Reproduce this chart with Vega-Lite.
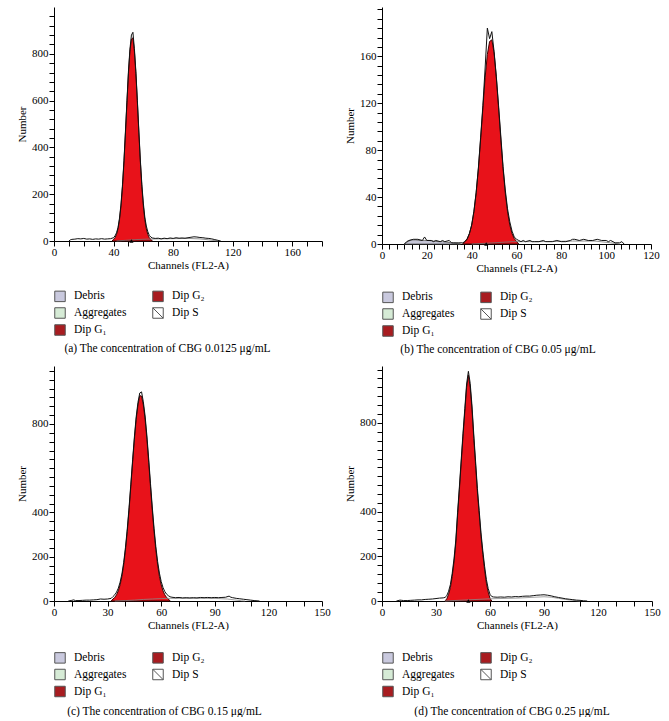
{
"$schema": "https://vega.github.io/schema/vega-lite/v6.json",
"padding": {"left": 16, "top": 3, "right": 0, "bottom": 0},
"config": {
  "view": {"stroke": null},
  "font": "Liberation Serif",
  "axis": {"labelFont": "Liberation Serif", "labelFontSize": 11, "titleFont": "Liberation Serif", "titleFontSize": 11, "titleFontWeight": "normal", "domainColor": "black", "tickColor": "black", "labelColor": "black", "titleColor": "black", "grid": false, "labelFlush": false, "labelOverlap": false, "ticks": true, "tickWidth": 1, "tickSize": 5, "domain": true, "zindex": 2},
  "axisX": {"labelPadding": 0, "titlePadding": 2},
  "axisY": {"labelPadding": 1, "titlePadding": 4},
  "legend": {"orient": "none", "columns": 2, "title": null, "labelFont": "Liberation Serif", "labelFontSize": 11.5, "labelColor": "#000", "symbolSize": 110, "symbolStrokeColor": "#555", "symbolStrokeWidth": 1, "symbolOpacity": 1, "rowPadding": 1, "columnPadding": 23, "labelOffset": 8},
  "title": {"font": "Liberation Serif", "fontSize": 11.5, "fontWeight": "normal", "color": "#000"}
},
"datasets": {
  "legend": [{"cat": "Debris"}, {"cat": "Aggregates"}, {"cat": "Dip G₁"}, {"cat": "Dip G₂"}, {"cat": "Dip S"}],
  "a_g1": [{"x":39,"y":0},{"x":40,"y":7},{"x":41,"y":14},{"x":42,"y":28},{"x":43,"y":52},{"x":44,"y":91},{"x":45,"y":150},{"x":46,"y":232},{"x":47,"y":338},{"x":48,"y":462},{"x":49,"y":593},{"x":50,"y":716},{"x":51,"y":811},{"x":52,"y":863},{"x":53,"y":868},{"x":54,"y":811},{"x":55,"y":716},{"x":56,"y":593},{"x":57,"y":462},{"x":58,"y":338},{"x":59,"y":232},{"x":60,"y":150},{"x":61,"y":91},{"x":62,"y":52},{"x":63,"y":28},{"x":64,"y":14},{"x":65,"y":7},{"x":66,"y":0}],
  "a_tot": [{"x":10,"y":0},{"x":11,"y":5},{"x":12,"y":7},{"x":14,"y":8},{"x":16,"y":10},{"x":18,"y":9},{"x":20,"y":11},{"x":22,"y":8},{"x":24,"y":9},{"x":26,"y":7},{"x":28,"y":9},{"x":30,"y":8},{"x":32,"y":10},{"x":34,"y":8},{"x":36,"y":9},{"x":38,"y":10},{"x":40,"y":14},{"x":41,"y":22},{"x":42,"y":35},{"x":43,"y":58},{"x":44,"y":98},{"x":45,"y":158},{"x":46,"y":240},{"x":47,"y":345},{"x":48,"y":470},{"x":49,"y":600},{"x":50,"y":725},{"x":51,"y":820},{"x":52,"y":880},{"x":53,"y":892},{"x":54,"y":822},{"x":55,"y":724},{"x":56,"y":600},{"x":57,"y":470},{"x":58,"y":346},{"x":59,"y":242},{"x":60,"y":162},{"x":61,"y":102},{"x":62,"y":64},{"x":63,"y":40},{"x":64,"y":24},{"x":65,"y":17},{"x":66,"y":13},{"x":68,"y":11},{"x":70,"y":12},{"x":72,"y":9},{"x":74,"y":12},{"x":76,"y":10},{"x":78,"y":13},{"x":80,"y":11},{"x":82,"y":14},{"x":84,"y":12},{"x":86,"y":13},{"x":88,"y":12},{"x":90,"y":14},{"x":92,"y":16},{"x":94,"y":18},{"x":96,"y":17},{"x":98,"y":15},{"x":100,"y":14},{"x":102,"y":12},{"x":104,"y":11},{"x":106,"y":9},{"x":108,"y":6},{"x":110,"y":3},{"x":112,"y":0}],
  "a_s": [{"x":42,"y":0},{"x":48,"y":3},{"x":55,"y":6},{"x":62,"y":8},{"x":70,"y":9},{"x":80,"y":10},{"x":90,"y":11},{"x":98,"y":9},{"x":104,"y":5},{"x":110,"y":0}],
  "a_mark": [{"x":52,"y":0}],
  "b_g1": [{"x":36,"y":0},{"x":37,"y":2.2},{"x":38,"y":4.6},{"x":39,"y":8.9},{"x":40,"y":16.2},{"x":41,"y":27.4},{"x":42,"y":43.4},{"x":43,"y":64.3},{"x":44,"y":89.4},{"x":45,"y":116},{"x":46,"y":141.7},{"x":47,"y":161.6},{"x":48,"y":172.6},{"x":49,"y":174},{"x":50,"y":163},{"x":51,"y":141.7},{"x":52,"y":116},{"x":53,"y":89.4},{"x":54,"y":64.3},{"x":55,"y":43.4},{"x":56,"y":27.4},{"x":57,"y":16.2},{"x":58,"y":8.9},{"x":59,"y":4.6},{"x":60,"y":2.2},{"x":61,"y":0}],
  "b_tot": [{"x":10,"y":0},{"x":11,"y":2},{"x":12,"y":3},{"x":14,"y":4},{"x":16,"y":4},{"x":18,"y":3},{"x":19,"y":6},{"x":20,"y":3},{"x":22,"y":3},{"x":23,"y":2},{"x":24,"y":3},{"x":26,"y":2},{"x":27,"y":3},{"x":28,"y":2},{"x":30,"y":3},{"x":31,"y":1},{"x":32,"y":1},{"x":34,"y":1},{"x":36,"y":1},{"x":37,"y":2},{"x":38,"y":4},{"x":39,"y":9},{"x":40,"y":16},{"x":41,"y":28},{"x":42,"y":44},{"x":43,"y":65},{"x":44,"y":91},{"x":45,"y":118},{"x":46,"y":150},{"x":47,"y":184},{"x":48,"y":175},{"x":49,"y":181},{"x":50,"y":164},{"x":51,"y":143},{"x":52,"y":118},{"x":53,"y":92},{"x":54,"y":66},{"x":55,"y":46},{"x":56,"y":30},{"x":57,"y":19},{"x":58,"y":11},{"x":59,"y":6},{"x":60,"y":4},{"x":61,"y":3},{"x":62,"y":2},{"x":63,"y":3},{"x":64,"y":2},{"x":66,"y":3},{"x":67,"y":2},{"x":68,"y":2},{"x":70,"y":2},{"x":72,"y":3},{"x":73,"y":2},{"x":74,"y":2},{"x":76,"y":2},{"x":78,"y":3},{"x":80,"y":2},{"x":82,"y":2},{"x":84,"y":3},{"x":85,"y":4},{"x":86,"y":4},{"x":88,"y":3},{"x":90,"y":4},{"x":92,"y":3},{"x":94,"y":3},{"x":96,"y":4},{"x":98,"y":3},{"x":100,"y":3},{"x":101,"y":2},{"x":102,"y":3},{"x":104,"y":1},{"x":106,"y":1},{"x":107,"y":2},{"x":108,"y":0}],
  "b_deb": [{"x":10,"y":0},{"x":11,"y":1.5},{"x":12,"y":2.5},{"x":13,"y":3.5},{"x":15,"y":3.5},{"x":17,"y":3},{"x":19,"y":3},{"x":21,"y":3},{"x":23,"y":2.5},{"x":25,"y":2},{"x":27,"y":2},{"x":29,"y":1.5},{"x":31,"y":1},{"x":33,"y":0.5},{"x":35,"y":0}],
  "b_s": [{"x":40,"y":0},{"x":50,"y":1},{"x":58,"y":2},{"x":70,"y":2},{"x":85,"y":2.5},{"x":95,"y":2.5},{"x":102,"y":1},{"x":106,"y":0}],
  "b_mark": [{"x":46.5,"y":0}],
  "c_g1": [{"x":32,"y":0},{"x":33,"y":9},{"x":34,"y":16},{"x":35,"y":28},{"x":36,"y":46},{"x":37,"y":73},{"x":38,"y":111},{"x":39,"y":163},{"x":40,"y":231},{"x":41,"y":314},{"x":42,"y":410},{"x":43,"y":517},{"x":44,"y":627},{"x":45,"y":731},{"x":46,"y":821},{"x":47,"y":886},{"x":48,"y":928},{"x":49,"y":926},{"x":50,"y":886},{"x":51,"y":821},{"x":52,"y":731},{"x":53,"y":627},{"x":54,"y":517},{"x":55,"y":410},{"x":56,"y":314},{"x":57,"y":231},{"x":58,"y":163},{"x":59,"y":111},{"x":60,"y":73},{"x":61,"y":46},{"x":62,"y":28},{"x":63,"y":16},{"x":64,"y":9},{"x":65,"y":0}],
  "c_tot": [{"x":8,"y":0},{"x":10,"y":3},{"x":11,"y":5},{"x":12,"y":2},{"x":14,"y":2},{"x":16,"y":3},{"x":18,"y":4},{"x":20,"y":4},{"x":22,"y":5},{"x":24,"y":6},{"x":26,"y":9},{"x":28,"y":8},{"x":30,"y":9},{"x":32,"y":12},{"x":33,"y":20},{"x":34,"y":28},{"x":35,"y":40},{"x":36,"y":58},{"x":37,"y":85},{"x":38,"y":122},{"x":39,"y":174},{"x":40,"y":242},{"x":41,"y":325},{"x":42,"y":421},{"x":43,"y":528},{"x":44,"y":638},{"x":45,"y":742},{"x":46,"y":832},{"x":47,"y":898},{"x":48,"y":940},{"x":49,"y":945},{"x":50,"y":900},{"x":51,"y":836},{"x":52,"y":746},{"x":53,"y":642},{"x":54,"y":532},{"x":55,"y":425},{"x":56,"y":329},{"x":57,"y":246},{"x":58,"y":178},{"x":59,"y":126},{"x":60,"y":88},{"x":61,"y":61},{"x":62,"y":43},{"x":63,"y":31},{"x":64,"y":24},{"x":65,"y":19},{"x":66,"y":17},{"x":68,"y":15},{"x":70,"y":16},{"x":72,"y":14},{"x":74,"y":15},{"x":76,"y":14},{"x":78,"y":15},{"x":80,"y":14},{"x":82,"y":16},{"x":84,"y":15},{"x":86,"y":16},{"x":88,"y":15},{"x":90,"y":16},{"x":92,"y":15},{"x":94,"y":16},{"x":96,"y":17},{"x":98,"y":22},{"x":99,"y":17},{"x":100,"y":15},{"x":102,"y":12},{"x":104,"y":10},{"x":106,"y":8},{"x":108,"y":6},{"x":110,"y":4},{"x":112,"y":2},{"x":115,"y":0}],
  "c_s": [{"x":34,"y":0},{"x":40,"y":2},{"x":45,"y":4},{"x":50,"y":7},{"x":55,"y":9},{"x":60,"y":11},{"x":65,"y":12},{"x":75,"y":12},{"x":85,"y":12},{"x":92,"y":11},{"x":97,"y":9},{"x":101,"y":5},{"x":105,"y":1},{"x":107,"y":0}],
  "d_g1": [{"x":35,"y":0},{"x":36,"y":10},{"x":37,"y":30},{"x":38,"y":60},{"x":39,"y":110},{"x":40,"y":175},{"x":41,"y":260},{"x":42,"y":385},{"x":43,"y":500},{"x":44,"y":620},{"x":45,"y":740},{"x":46,"y":850},{"x":47,"y":960},{"x":48,"y":1015},{"x":49,"y":960},{"x":50,"y":860},{"x":51,"y":730},{"x":52,"y":610},{"x":53,"y":490},{"x":54,"y":390},{"x":55,"y":290},{"x":56,"y":210},{"x":57,"y":140},{"x":58,"y":80},{"x":59,"y":40},{"x":60,"y":12},{"x":61,"y":0}],
  "d_tot": [{"x":8,"y":0},{"x":10,"y":4},{"x":11,"y":3},{"x":12,"y":2},{"x":14,"y":2},{"x":16,"y":3},{"x":18,"y":4},{"x":20,"y":5},{"x":22,"y":5},{"x":24,"y":7},{"x":26,"y":8},{"x":28,"y":9},{"x":30,"y":11},{"x":32,"y":13},{"x":34,"y":14},{"x":35,"y":16},{"x":36,"y":24},{"x":37,"y":44},{"x":38,"y":74},{"x":39,"y":124},{"x":40,"y":189},{"x":41,"y":274},{"x":42,"y":399},{"x":43,"y":514},{"x":44,"y":634},{"x":45,"y":754},{"x":46,"y":864},{"x":47,"y":975},{"x":48,"y":1032},{"x":49,"y":978},{"x":50,"y":876},{"x":51,"y":746},{"x":52,"y":626},{"x":53,"y":506},{"x":54,"y":406},{"x":55,"y":306},{"x":56,"y":226},{"x":57,"y":156},{"x":58,"y":96},{"x":59,"y":56},{"x":60,"y":30},{"x":61,"y":20},{"x":62,"y":18},{"x":64,"y":17},{"x":66,"y":18},{"x":68,"y":17},{"x":70,"y":19},{"x":72,"y":18},{"x":74,"y":20},{"x":76,"y":19},{"x":78,"y":21},{"x":80,"y":22},{"x":82,"y":22},{"x":84,"y":24},{"x":86,"y":26},{"x":88,"y":27},{"x":90,"y":28},{"x":92,"y":26},{"x":94,"y":23},{"x":96,"y":19},{"x":98,"y":16},{"x":100,"y":13},{"x":102,"y":10},{"x":104,"y":8},{"x":106,"y":6},{"x":108,"y":4},{"x":110,"y":3},{"x":112,"y":1},{"x":114,"y":0}],
  "d_s": [{"x":35,"y":0},{"x":40,"y":2},{"x":45,"y":4},{"x":50,"y":6},{"x":55,"y":8},{"x":60,"y":10},{"x":65,"y":11},{"x":70,"y":12},{"x":75,"y":13},{"x":80,"y":15},{"x":85,"y":17},{"x":90,"y":19},{"x":94,"y":17},{"x":98,"y":12},{"x":102,"y":7},{"x":106,"y":3},{"x":110,"y":0}],
  "d_mark": [{"x":48,"y":0}]
},
"columns": 2,
"spacing": {"row": 7, "column": 13},
"resolve": {"scale": {"fill": "independent", "shape": "independent"}, "legend": {"fill": "independent", "shape": "independent"}},
"concat": [
 {
  "width": 268, "height": 234,
  "title": {"text": "(a)  The concentration of CBG 0.0125 μg/mL", "orient": "bottom", "offset": 5, "dx": -20.5},
  "encoding": {
    "x": {"field": "x", "type": "quantitative", "scale": {"domain": [0, 180], "nice": false, "zero": false},
      "axis": {"title": "Channels (FL2-A)", "ticks": true, "tickSize": 5, "tickColor": "black", "values": [0,10,20,30,40,50,60,70,80,90,100,110,120,130,140,150,160,170,180],
        "labelExpr": "datum.value % 40 === 0 ? datum.label : ''"}},
    "y": {"field": "y", "type": "quantitative", "scale": {"domain": [0, 1000], "nice": false},
      "axis": {"title": "Number", "ticks": true, "tickSize": 5, "tickColor": "black", "values": [0,40,80,120,160,200,240,280,320,360,400,440,480,520,560,600,640,680,720,760,800,840,880,920,960],
        "labelExpr": "datum.value % 200 === 0 ? datum.label : ''"}}
  },
  "layer": [
    {"data": {"name": "a_g1"}, "mark": {"type": "area", "fill": "#e8121a", "stroke": "#3d0505", "strokeWidth": 1}},
    {"data": {"name": "a_s"}, "mark": {"type": "line", "stroke": "#777777", "strokeWidth": 0.8}},
    {"data": {"name": "a_tot"}, "mark": {"type": "line", "stroke": "#111111", "strokeWidth": 1}},
    {"data": {"name": "a_mark"}, "mark": {"type": "point", "shape": "triangle-up", "filled": true, "color": "#000", "size": 18, "opacity": 1}},
    {"data": {"name": "legend"}, "mark": {"type": "point", "filled": true, "opacity": 1},
     "encoding": {
       "fill": {"field": "cat", "type": "nominal", "scale": {"domain": ["Debris", "Aggregates", "Dip G₁", "Dip G₂", "Dip S"], "range": ["#c9c9de", "#d6ebd6", "#a81c20", "#a81c20", "#ffffff"]},
         "legend": {"legendX": 0, "legendY": 283, "encode": {"symbols": {"update": {"stroke": {"value": "#555"}, "strokeWidth": {"value": 1}, "opacity": {"value": 1}, "fillOpacity": {"value": 1}}}}}},
       "shape": {"field": "cat", "type": "nominal", "scale": {"domain": ["Debris", "Aggregates", "Dip G₁", "Dip G₂", "Dip S"], "range": ["square", "square", "square", "square", "M-1,-1H1V1H-1ZM-1,-1L1,1"]},
         "legend": {"legendX": 0, "legendY": 283, "encode": {"symbols": {"update": {"stroke": {"value": "#555"}, "strokeWidth": {"value": 1}, "opacity": {"value": 1}, "fillOpacity": {"value": 1}}}}}}
     }}
  ]
 },
 {
  "width": 269, "height": 237,
  "title": {"text": "(b)  The concentration of CBG 0.05 μg/mL", "orient": "bottom", "offset": 5, "dx": -18.5},
  "encoding": {
    "x": {"field": "x", "type": "quantitative", "scale": {"domain": [0, 120], "nice": false, "zero": false},
      "axis": {"title": "Channels (FL2-A)", "ticks": true, "tickSize": 5, "tickColor": "black", "values": [0,3.333,6.667,10,13.333,16.667,20,23.333,26.667,30,33.333,36.667,40,43.333,46.667,50,53.333,56.667,60,63.333,66.667,70,73.333,76.667,80,83.333,86.667,90,93.333,96.667,100,103.333,106.667,110,113.333,116.667,120],
        "labelExpr": "datum.value % 20 === 0 ? datum.label : ''"}},
    "y": {"field": "y", "type": "quantitative", "scale": {"domain": [0, 202], "nice": false},
      "axis": {"title": "Number", "ticks": true, "tickSize": 5, "tickColor": "black", "values": [0,8,16,24,32,40,48,56,64,72,80,88,96,104,112,120,128,136,144,152,160,168,176,184,192,200],
        "labelExpr": "datum.value % 40 === 0 && datum.value <= 160 ? datum.label : ''"}}
  },
  "layer": [
    {"data": {"name": "b_deb"}, "mark": {"type": "area", "fill": "#c5c5d6", "stroke": "#555555", "strokeWidth": 0.8}},
    {"data": {"name": "b_g1"}, "mark": {"type": "area", "fill": "#e8121a", "stroke": "#3d0505", "strokeWidth": 1}},
    {"data": {"name": "b_s"}, "mark": {"type": "line", "stroke": "#777777", "strokeWidth": 0.8}},
    {"data": {"name": "b_tot"}, "mark": {"type": "line", "stroke": "#111111", "strokeWidth": 1}},
    {"data": {"name": "b_mark"}, "mark": {"type": "point", "shape": "triangle-up", "filled": true, "color": "#000", "size": 18, "opacity": 1}},
    {"data": {"name": "legend"}, "mark": {"type": "point", "filled": true, "opacity": 1},
     "encoding": {
       "fill": {"field": "cat", "type": "nominal", "scale": {"domain": ["Debris", "Aggregates", "Dip G₁", "Dip G₂", "Dip S"], "range": ["#c9c9de", "#d6ebd6", "#a81c20", "#a81c20", "#ffffff"]},
         "legend": {"legendX": 0, "legendY": 284, "encode": {"symbols": {"update": {"stroke": {"value": "#555"}, "strokeWidth": {"value": 1}, "opacity": {"value": 1}, "fillOpacity": {"value": 1}}}}}},
       "shape": {"field": "cat", "type": "nominal", "scale": {"domain": ["Debris", "Aggregates", "Dip G₁", "Dip G₂", "Dip S"], "range": ["square", "square", "square", "square", "M-1,-1H1V1H-1ZM-1,-1L1,1"]},
         "legend": {"legendX": 0, "legendY": 284, "encode": {"symbols": {"update": {"stroke": {"value": "#555"}, "strokeWidth": {"value": 1}, "opacity": {"value": 1}, "fillOpacity": {"value": 1}}}}}}
     }}
  ]
 },
 {
  "width": 268, "height": 235,
  "title": {"text": "(c)  The concentration of CBG 0.15 μg/mL", "orient": "bottom", "offset": 6, "dx": -23.5},
  "encoding": {
    "x": {"field": "x", "type": "quantitative", "scale": {"domain": [0, 150], "nice": false, "zero": false},
      "axis": {"title": "Channels (FL2-A)", "ticks": true, "tickSize": 5, "tickColor": "black", "values": [0,10,20,30,40,50,60,70,80,90,100,110,120,130,140,150],
        "labelExpr": "datum.value % 30 === 0 ? datum.label : ''"}},
    "y": {"field": "y", "type": "quantitative", "scale": {"domain": [0, 1062], "nice": false},
      "axis": {"title": "Number", "ticks": true, "tickSize": 5, "tickColor": "black", "values": [0,40,80,120,160,200,240,280,320,360,400,440,480,520,560,600,640,680,720,760,800,840,880,920,960,1000,1040],
        "labelExpr": "datum.value === 0 || datum.value === 200 || datum.value === 400 || datum.value === 800 ? datum.label : ''"}}
  },
  "layer": [
    {"data": {"name": "c_g1"}, "mark": {"type": "area", "fill": "#e8121a", "stroke": "#3d0505", "strokeWidth": 1}},
    {"data": {"name": "c_s"}, "mark": {"type": "line", "stroke": "#888888", "strokeWidth": 0.8}},
    {"data": {"name": "c_tot"}, "mark": {"type": "line", "stroke": "#111111", "strokeWidth": 1}},
    {"data": {"name": "legend"}, "mark": {"type": "point", "filled": true, "opacity": 1},
     "encoding": {
       "fill": {"field": "cat", "type": "nominal", "scale": {"domain": ["Debris", "Aggregates", "Dip G₁", "Dip G₂", "Dip S"], "range": ["#c9c9de", "#d6ebd6", "#a81c20", "#a81c20", "#ffffff"]},
         "legend": {"legendX": 0, "legendY": 285.5, "encode": {"symbols": {"update": {"stroke": {"value": "#555"}, "strokeWidth": {"value": 1}, "opacity": {"value": 1}, "fillOpacity": {"value": 1}}}}}},
       "shape": {"field": "cat", "type": "nominal", "scale": {"domain": ["Debris", "Aggregates", "Dip G₁", "Dip G₂", "Dip S"], "range": ["square", "square", "square", "square", "M-1,-1H1V1H-1ZM-1,-1L1,1"]},
         "legend": {"legendX": 0, "legendY": 285.5, "encode": {"symbols": {"update": {"stroke": {"value": "#555"}, "strokeWidth": {"value": 1}, "opacity": {"value": 1}, "fillOpacity": {"value": 1}}}}}}
     }}
  ]
 },
 {
  "width": 270, "height": 235,
  "title": {"text": "(d)  The concentration of CBG 0.25 μg/mL", "orient": "bottom", "offset": 6, "dx": -5},
  "encoding": {
    "x": {"field": "x", "type": "quantitative", "scale": {"domain": [0, 150], "nice": false, "zero": false},
      "axis": {"title": "Channels (FL2-A)", "ticks": true, "tickSize": 5, "tickColor": "black", "values": [0,10,20,30,40,50,60,70,80,90,100,110,120,130,140,150],
        "labelExpr": "datum.value % 30 === 0 ? datum.label : ''"}},
    "y": {"field": "y", "type": "quantitative", "scale": {"domain": [0, 1056], "nice": false},
      "axis": {"title": "Number", "ticks": true, "tickSize": 5, "tickColor": "black", "values": [0,40,80,120,160,200,240,280,320,360,400,440,480,520,560,600,640,680,720,760,800,840,880,920,960,1000,1040],
        "labelExpr": "datum.value === 0 || datum.value === 200 || datum.value === 400 || datum.value === 800 ? datum.label : ''"}}
  },
  "layer": [
    {"data": {"name": "d_g1"}, "mark": {"type": "area", "fill": "#e8121a", "stroke": "#3d0505", "strokeWidth": 1}},
    {"data": {"name": "d_s"}, "mark": {"type": "line", "stroke": "#888888", "strokeWidth": 0.8}},
    {"data": {"name": "d_tot"}, "mark": {"type": "line", "stroke": "#111111", "strokeWidth": 1}},
    {"data": {"name": "d_mark"}, "mark": {"type": "point", "shape": "triangle-up", "filled": true, "color": "#000", "size": 18, "opacity": 1}},
    {"data": {"name": "legend"}, "mark": {"type": "point", "filled": true, "opacity": 1},
     "encoding": {
       "fill": {"field": "cat", "type": "nominal", "scale": {"domain": ["Debris", "Aggregates", "Dip G₁", "Dip G₂", "Dip S"], "range": ["#c9c9de", "#d6ebd6", "#a81c20", "#a81c20", "#ffffff"]},
         "legend": {"legendX": 0, "legendY": 285.5, "encode": {"symbols": {"update": {"stroke": {"value": "#555"}, "strokeWidth": {"value": 1}, "opacity": {"value": 1}, "fillOpacity": {"value": 1}}}}}},
       "shape": {"field": "cat", "type": "nominal", "scale": {"domain": ["Debris", "Aggregates", "Dip G₁", "Dip G₂", "Dip S"], "range": ["square", "square", "square", "square", "M-1,-1H1V1H-1ZM-1,-1L1,1"]},
         "legend": {"legendX": 0, "legendY": 285.5, "encode": {"symbols": {"update": {"stroke": {"value": "#555"}, "strokeWidth": {"value": 1}, "opacity": {"value": 1}, "fillOpacity": {"value": 1}}}}}}
     }}
  ]
 }
]
}
